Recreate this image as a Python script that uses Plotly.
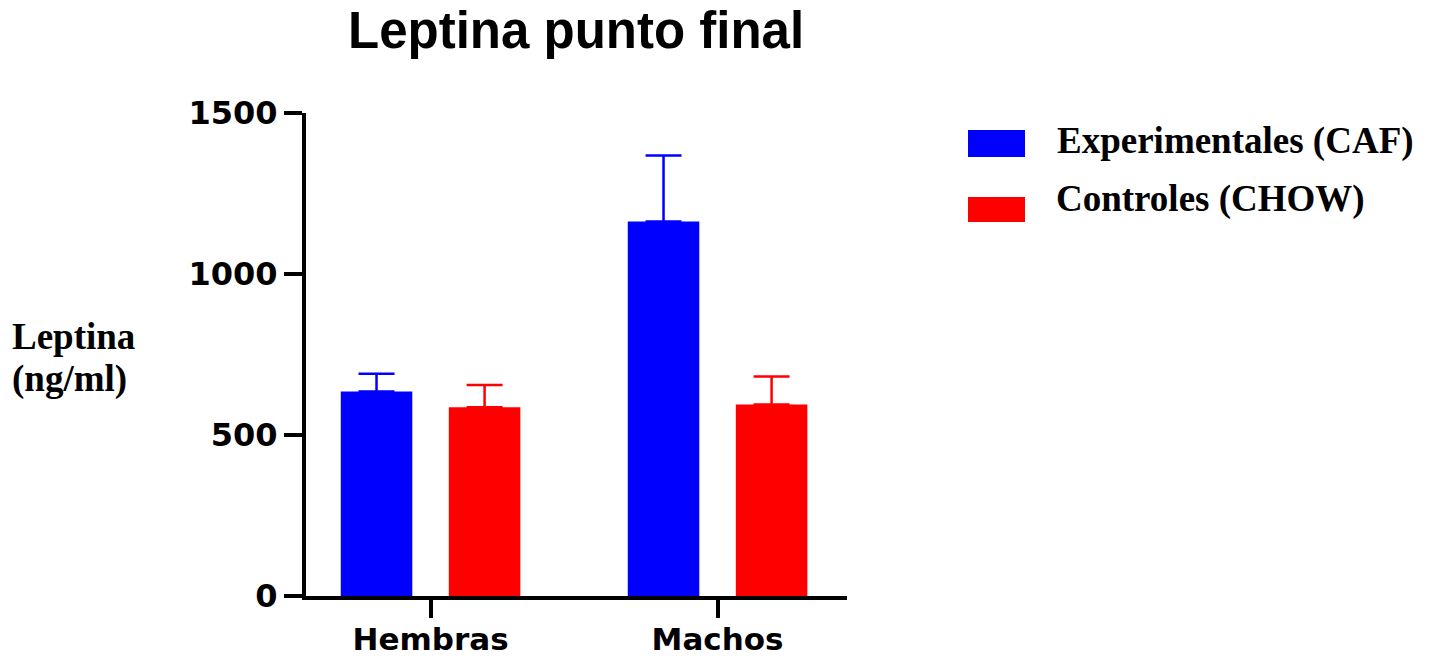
import plotly.graph_objects as go

# Data: leptin (ng/ml) at end point, mean and upper error
groups = ["Hembras", "Machos"]
caf_mean = [635, 1163]
caf_err = [55, 205]
chow_mean = [586, 595]
chow_err = [69, 87]

series_names = ["Experimentales (CAF)", "Controles (CHOW)"]
series_colors = ["#0000ff", "#ff0000"]
y_ticks = [0, 500, 1000, 1500]

W, H = 1434, 659
ML, MR, MT, MB = 306, 587, 113, 63
PW, PH = W - ML - MR, H - MT - MB


def px_x(px):
    return (px - ML) / PW


def px_y(py):
    return (H - MB - py) / PH


fig = go.Figure()
for name, color, means, errs in [
    (series_names[0], series_colors[0], caf_mean, caf_err),
    (series_names[1], series_colors[1], chow_mean, chow_err),
]:
    fig.add_trace(go.Bar(
        x=groups, y=means, name=name,
        marker=dict(color=color, line=dict(width=0)),
        error_y=dict(type="data", array=errs, arrayminus=[0] * len(errs),
                     symmetric=False, color=color, thickness=2.5, width=18),
        showlegend=False,
    ))

tick_font = dict(family="DejaVu Sans", size=32, color="black", weight="bold")
xtick_font = dict(family="DejaVu Sans", size=31, color="black", weight="bold")
serif = "Liberation Serif"

fig.update_layout(
    width=W, height=H,
    margin=dict(l=ML, r=MR, t=MT, b=MB, pad=0, autoexpand=False),
    paper_bgcolor="white", plot_bgcolor="white",
    barmode="group", bargap=0.247, bargroupgap=0.338,
    xaxis=dict(
        type="category", range=[-0.434, 1.451], automargin=False,
        showline=True, linecolor="black", linewidth=4,
        ticks="outside", ticklen=18, tickwidth=4, tickcolor="black",
        tickfont=xtick_font, ticklabelstandoff=-5,
        showgrid=False, zeroline=False,
    ),
    yaxis=dict(
        range=[0, 1500], tickvals=y_ticks, automargin=False,
        showline=True, linecolor="black", linewidth=4,
        ticks="outside", ticklen=18, tickwidth=4, tickcolor="black",
        tickfont=tick_font, showgrid=False, zeroline=False,
    ),
)

annotations = [
    dict(text="<b>Leptina punto final</b>", x=px_x(576), y=px_y(31),
         xanchor="center", yanchor="middle",
         font=dict(family="Liberation Sans", size=51, color="black")),
    dict(text="<b>Leptina</b>", x=px_x(10), y=px_y(336),
         xanchor="left", yanchor="middle",
         font=dict(family=serif, size=37, color="black")),
    dict(text="<b>(ng/ml)</b>", x=px_x(10), y=px_y(379),
         xanchor="left", yanchor="middle",
         font=dict(family=serif, size=37, color="black")),
    dict(text="<b>" + series_names[0] + "</b>", x=px_x(1055), y=px_y(141),
         xanchor="left", yanchor="middle",
         font=dict(family=serif, size=37, color="black")),
    dict(text="<b>" + series_names[1] + "</b>", x=px_x(1054), y=px_y(199),
         xanchor="left", yanchor="middle",
         font=dict(family=serif, size=37, color="black")),
]
for a in annotations:
    a.update(xref="paper", yref="paper", showarrow=False)
fig.update_layout(annotations=annotations)

# Legend swatches
for color, (top, bottom) in zip(series_colors, [(130, 157), (197, 222)]):
    fig.add_shape(type="rect", xref="paper", yref="paper",
                  x0=px_x(968), x1=px_x(1025), y0=px_y(bottom), y1=px_y(top),
                  fillcolor=color, line=dict(width=0))

fig.write_html("out.html")
